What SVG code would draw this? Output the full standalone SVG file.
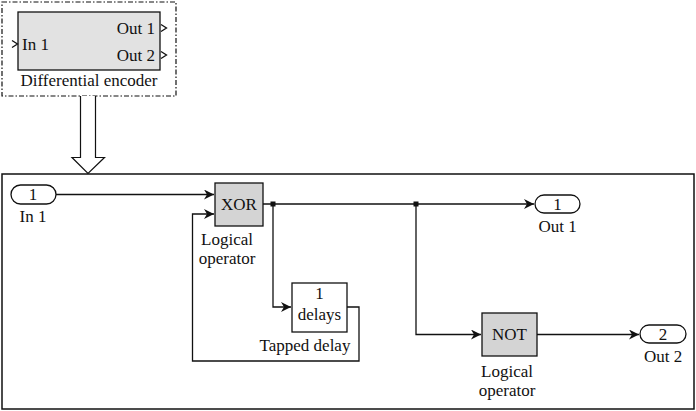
<svg xmlns="http://www.w3.org/2000/svg" width="696" height="411" viewBox="0 0 696 411">
<style>
text{font-family:"Liberation Serif","DejaVu Serif",serif;font-size:17px;fill:#111}
.c{text-anchor:middle}
.ln{fill:none;stroke:#111;stroke-width:1.3}
.blk{stroke:#111;stroke-width:1.3}
.gray{fill:#d4d4d4}
.port{fill:#fff;stroke:#111;stroke-width:1.3}
</style>
<defs>
<marker id="ah" viewBox="0 0 10 10" refX="10" refY="5" markerWidth="10" markerHeight="10" markerUnits="userSpaceOnUse" orient="auto">
<path d="M0,0 L10,5 L0,10 L3,5 Z" fill="#111"/>
</marker>
</defs>
<g id="encoder">
<rect x="2" y="2" width="174" height="94" fill="none" stroke="#111" stroke-width="1.2" stroke-dasharray="5,2,1.5,2"/>
<rect x="18" y="12" width="142" height="58" fill="#e2e2e2" stroke="#111" stroke-width="1.3"/>
<path class="ln" d="M12,40.5 L17.5,44 L12,47.5"/>
<path class="ln" d="M161,24.5 L166.5,28 L161,31.5"/>
<path class="ln" d="M161,51.5 L166.5,55 L161,58.5"/>
<text x="22" y="50">In 1</text>
<text x="155" y="34" text-anchor="end">Out 1</text>
<text x="155" y="61" text-anchor="end">Out 2</text>
<text x="89" y="86" class="c">Differential encoder</text>
</g>
<g id="bigarrow">
<path d="M80.5,96 L80.5,157.5 L72,157.5 L88,173.5 L104.5,157.5 L95.5,157.5 L95.5,96" fill="#fff" stroke="#111" stroke-width="1.2"/>
</g>
<g id="frame">
<rect x="2" y="174" width="692" height="235" fill="none" stroke="#111" stroke-width="1.5"/>
</g>
<g id="connectors">
<path class="ln" d="M56,194.5 L214,194.5" marker-end="url(#ah)"/>
<path class="ln" d="M263,204 L534,204" marker-end="url(#ah)"/>
<path class="ln" d="M273,204 L273,307 L291,307" marker-end="url(#ah)"/>
<path class="ln" d="M347,307 L359,307 L359,361 L192.5,361 L192.5,214 L214,214" marker-end="url(#ah)"/>
<path class="ln" d="M416,204 L416,334.5 L481,334.5" marker-end="url(#ah)"/>
<path class="ln" d="M537,334.5 L639,334.5" marker-end="url(#ah)"/>
<rect x="270.5" y="201.5" width="5" height="5" fill="#111"/>
<rect x="413.5" y="201.5" width="5" height="5" fill="#111"/>
</g>
<g id="in1">
<rect class="port" x="11" y="185" width="45" height="19" rx="9.5"/>
<text x="33" y="200" class="c">1</text>
<text x="33" y="222" class="c">In 1</text>
</g>
<g id="xor">
<rect class="blk gray" x="215" y="183" width="48" height="43"/>
<text x="239" y="210" class="c">XOR</text>
<text x="227" y="245" class="c">Logical</text>
<text x="227" y="264" class="c">operator</text>
</g>
<g id="delay">
<rect class="blk" fill="#fff" x="292" y="283" width="55" height="49"/>
<text x="319.5" y="299" class="c">1</text>
<text x="319.5" y="320" class="c">delays</text>
<text x="305" y="351" class="c">Tapped delay</text>
</g>
<g id="out1">
<rect class="port" x="535" y="195" width="45" height="18" rx="9"/>
<text x="557.5" y="209.5" class="c">1</text>
<text x="557.5" y="232" class="c">Out 1</text>
</g>
<g id="not">
<rect class="blk gray" x="482" y="313" width="55" height="43"/>
<text x="509.5" y="340" class="c">NOT</text>
<text x="507" y="377" class="c">Logical</text>
<text x="507" y="396" class="c">operator</text>
</g>
<g id="out2">
<rect class="port" x="640" y="325" width="46" height="18" rx="9"/>
<text x="663" y="339.5" class="c">2</text>
<text x="663" y="362" class="c">Out 2</text>
</g>
</svg>
